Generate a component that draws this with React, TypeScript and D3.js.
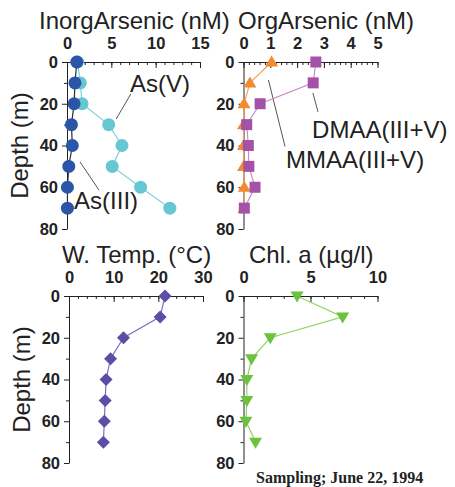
import { useEffect, useRef } from 'react';
import * as d3 from 'd3';

// depth (m) of every sample
const depths = [0, 10, 20, 30, 40, 50, 60, 70];

// inorganic arsenic (nM)
const asIII = [1.1, 0.9, 0.8, 0.5, 0.6, 0.2, 0.05, 0.05];
const asV = [1.2, 1.5, 1.7, 4.7, 6.2, 5.1, 8.3, 11.6];

// organic arsenic (nM)
const mmaa = [1.05, 0.24, 0.02, 0.0, 0.0, 0.0, 0.03, 0.02];
const dmaa = [2.7, 2.6, 0.62, 0.12, 0.18, 0.2, 0.43, 0.03];

// water temperature (degC) and chlorophyll a (ug/l)
const wTemp = [21.5, 20.4, 12.2, 9.3, 8.3, 8.1, 7.9, 7.7];
const chlA = [4.0, 7.4, 2.0, 0.6, 0.25, 0.25, 0.18, 0.9];

const depthTicks = [0, 20, 40, 60, 80];
const depthMinor = [10, 30, 50, 70];
const inorgTicks = [0, 5, 10, 15];
const orgTicks = [0, 1, 2, 3, 4, 5];
const tempTicks = [0, 10, 20, 30];
const chlTicks = [0, 5, 10];

const FONT = '"Liberation Sans", Arial, Helvetica, sans-serif';

const marker = (shape) => {
  switch (shape) {
    case 'square':
      return 'M-5.5,-5.5H5.5V5.5H-5.5Z';
    case 'triUp':
      return 'M0,-6.5L6.5,4.5L-6.5,4.5Z';
    case 'triDown':
      return 'M0,6.5L6.5,-4.5L-6.5,-4.5Z';
    case 'diamond':
      return 'M0,-6.5L6.5,0L0,6.5L-6.5,0Z';
    default:
      return d3.symbol(d3.symbolCircle, Math.PI * 6.5 * 6.5)();
  }
};

const panels = [
  {
    title: 'InorgArsenic (nM)',
    titleX: 39,
    xDomain: [0, 15],
    xRange: [67, 200],
    yRange: [62, 229],
    ticks: inorgTicks,
    minorStep: 1,
    depthLabel: true,
    series: [
      { values: asV, fill: '#66c7d3', line: '#7dd0db', shape: 'circle' },
      { values: asIII, fill: '#2b56a8', line: '#2a2a3a', shape: 'circle' },
    ],
    notes: [
      { text: 'As(V)', tx: 7.1, ty: 14.4, from: [7.2, 15.3], to: [5.55, 27.3] },
      { text: 'As(III)', tx: 0.8, ty: 70.4, from: [3.6, 61.3], to: [1.47, 47.9] },
    ],
  },
  {
    title: 'OrgArsenic (nM)',
    titleX: 238,
    xDomain: [0, 5],
    xRange: [243.5, 377.5],
    yRange: [62, 229],
    ticks: orgTicks,
    minorStep: 0.2,
    depthLabel: false,
    series: [
      { values: mmaa, fill: '#f28a30', line: '#f5a366', shape: 'triUp' },
      { values: dmaa, fill: '#a452a8', line: '#c98dc9', shape: 'square' },
    ],
    notes: [
      { text: 'DMAA(III+V)', tx: 2.56, ty: 36.4, from: [2.59, 14.8], to: [2.78, 23.9] },
      { text: 'MMAA(III+V)', tx: 1.59, ty: 50.8, from: [0.93, 8.6], to: [1.55, 40.5] },
    ],
  },
  {
    title: 'W. Temp. (\u00b0C)',
    titleX: 62,
    xDomain: [0, 30],
    xRange: [69, 203],
    yRange: [296, 463],
    ticks: tempTicks,
    minorStep: 2,
    depthLabel: true,
    series: [{ values: wTemp, fill: '#5c4ea6', line: '#7d72c4', shape: 'diamond' }],
    notes: [],
  },
  {
    title: 'Chl. a (\u00b5g/l)',
    titleX: 249,
    xDomain: [0, 10],
    xRange: [243.5, 377.5],
    yRange: [296, 463],
    ticks: chlTicks,
    minorStep: 1,
    depthLabel: false,
    series: [{ values: chlA, fill: '#6bc23d', line: '#92d46c', shape: 'triDown' }],
    notes: [],
  },
];

function App() {
  const svgRef = useRef(null);

  useEffect(() => {
    const svg = d3.select(svgRef.current);
    svg.selectAll('*').remove();

    const styleAxis = (sel) => {
      sel.selectAll('path, line').attr('stroke', '#222').attr('stroke-width', 1);
      sel
        .selectAll('text')
        .attr('fill', '#222')
        .attr('font-family', FONT)
        .attr('font-size', 16.5)
        .attr('font-weight', 'bold');
    };

    panels.forEach((p) => {
      const x = d3.scaleLinear().domain(p.xDomain).range(p.xRange);
      const y = d3.scaleLinear().domain([0, 80]).range(p.yRange);
      const g = svg.append('g');
      const top = p.yRange[0];
      const left = p.xRange[0];

      // minor ticks, top axis
      g.append('g')
        .attr('transform', `translate(0,${top})`)
        .call(
          d3
            .axisTop(x)
            .tickValues(d3.range(p.xDomain[0], p.xDomain[1] + 1e-6, p.minorStep))
            .tickSize(-3)
            .tickFormat(() => '')
        )
        .call((s) => s.select('.domain').remove())
        .call(styleAxis);

      // major ticks, top axis
      g.append('g')
        .attr('transform', `translate(0,${top})`)
        .call(
          d3
            .axisTop(x)
            .tickValues(p.ticks)
            .tickFormat(d3.format('d'))
            .tickSizeInner(-6)
            .tickSizeOuter(0)
            .tickPadding(13)
        )
        .call(styleAxis);

      // depth axis
      g.append('g')
        .attr('transform', `translate(${left},0)`)
        .call(d3.axisLeft(y).tickValues(depthMinor).tickSize(3).tickFormat(() => ''))
        .call((s) => s.select('.domain').remove())
        .call(styleAxis);

      g.append('g')
        .attr('transform', `translate(${left},0)`)
        .call(d3.axisLeft(y).tickValues(depthTicks).tickSizeInner(5).tickSizeOuter(0).tickPadding(4))
        .call(styleAxis);

      // title
      g.append('text')
        .attr('x', p.titleX)
        .attr('y', top - 33)
        .attr('font-family', FONT)
        .attr('font-size', 24)
        .attr('fill', '#222')
        .text(p.title);

      if (p.depthLabel) {
        g.append('text')
          .attr('transform', `translate(${left - 39},${(p.yRange[0] + p.yRange[1]) / 2}) rotate(-90)`)
          .attr('text-anchor', 'middle')
          .attr('font-family', FONT)
          .attr('font-size', 24)
          .attr('fill', '#222')
          .text('Depth (m)');
      }

      // annotations
      p.notes.forEach((n) => {
        g.append('line')
          .attr('x1', x(n.from[0]))
          .attr('y1', y(n.from[1]))
          .attr('x2', x(n.to[0]))
          .attr('y2', y(n.to[1]))
          .attr('stroke', '#555')
          .attr('stroke-width', 1);
        g.append('text')
          .attr('x', x(n.tx))
          .attr('y', y(n.ty))
          .attr('font-family', FONT)
          .attr('font-size', 24)
          .attr('fill', '#222')
          .text(n.text);
      });

      // series
      p.series.forEach((s) => {
        const pts = s.values.map((v, i) => [v, depths[i]]);
        const line = d3
          .line()
          .x((d) => x(d[0]))
          .y((d) => y(d[1]));
        g.append('path')
          .attr('d', line(pts))
          .attr('fill', 'none')
          .attr('stroke', s.line)
          .attr('stroke-width', 1.2);
        g.selectAll(null)
          .data(pts)
          .enter()
          .append('path')
          .attr('transform', (d) => `translate(${x(d[0])},${y(d[1])})`)
          .attr('d', marker(s.shape))
          .attr('fill', s.fill);
      });
    });

    svg
      .append('text')
      .attr('x', 256)
      .attr('y', 483)
      .attr('font-family', '"Liberation Serif", "Times New Roman", serif')
      .attr('font-weight', 'bold')
      .attr('font-size', 16)
      .attr('fill', '#222')
      .text('Sampling; June 22, 1994');
  }, []);

  return (
    <svg
      ref={svgRef}
      width="455"
      height="487"
      style={{ position: 'absolute', left: 0, top: 0, display: 'block', background: '#fff' }}
    />
  );
}

export default App;
